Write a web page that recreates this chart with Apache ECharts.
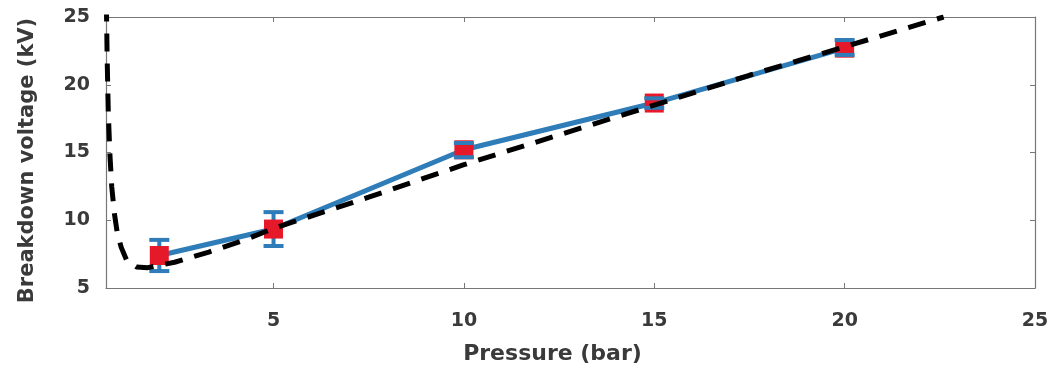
<!DOCTYPE html>
<html>
<head>
<meta charset="utf-8">
<script src="https://cdn.jsdelivr.net/npm/echarts@6/dist/echarts.min.js"></script>
<style>
    html, body { margin: 0; padding: 0; background: #fff; }
    #chart { width: 1060px; height: 379px; }
</style>
</head>
<body>
<div id="chart"></div>
<script>
    // measured breakdown voltage
    var pressure = [2, 5, 10, 15, 20];
    var voltage = [7.4, 9.35, 15.2, 18.65, 22.7];
    var errLow = [6.25, 8.1, 14.65, 18.3, 22.2];
    var errHigh = [8.55, 10.6, 15.7, 19.0, 23.3];

    // Paschen curve (dashed)
    var paschenX = [0.61, 0.63, 0.66, 0.7, 0.75, 0.82, 0.9, 1.0, 1.15, 1.4, 1.7, 2.4, 3.3, 4.2, 5, 7.5, 10, 12.5, 15, 17.5, 20, 22.6];
    var paschenY = [26, 22, 18, 15, 12.5, 10.5, 9.0, 8.0, 7.0, 6.55, 6.5, 6.9, 7.65, 8.5, 9.4, 11.7, 14.1, 16.3, 18.5, 20.7, 22.8, 25];

    var xTicks = [5, 10, 15, 20, 25];

    var blue = '#2e7cb8';
    var red = '#e5192a';
    var txt = '#3a3a3a';
    var font = 'DejaVu Sans';

    var measured = pressure.map(function (p, i) { return [p, voltage[i]]; });
    var errData = pressure.map(function (p, i) { return [p, errLow[i], errHigh[i]]; });
    var paschen = paschenX.map(function (p, i) { return [p, paschenY[i]]; });

    function stem(params, api) {
        var lo = api.coord([api.value(0), api.value(1)]);
        var hi = api.coord([api.value(0), api.value(2)]);
        return {
            type: 'line',
            shape: { x1: lo[0], y1: lo[1], x2: hi[0], y2: hi[1] },
            style: { stroke: blue, lineWidth: 4 }
        };
    }

    function caps(params, api) {
        var lo = api.coord([api.value(0), api.value(1)]);
        var hi = api.coord([api.value(0), api.value(2)]);
        var w = 10;
        return {
            type: 'group',
            children: [
                { type: 'line', shape: { x1: lo[0] - w, y1: lo[1], x2: lo[0] + w, y2: lo[1] }, style: { stroke: blue, lineWidth: 4 } },
                { type: 'line', shape: { x1: hi[0] - w, y1: hi[1], x2: hi[0] + w, y2: hi[1] }, style: { stroke: blue, lineWidth: 4 } }
            ]
        };
    }

    var axisLine = { show: true, lineStyle: { color: '#777', width: 1.2 } };

    var option = {
        animation: false,
        backgroundColor: '#fff',
        grid: { left: 106, right: 25, top: 17, bottom: 91, show: false },
        xAxis: [{
            type: 'value',
            min: 0.6,
            max: 25,
            name: 'Pressure (bar)',
            nameLocation: 'middle',
            nameGap: 55,
            nameTextStyle: { color: txt, fontFamily: font, fontWeight: 'bold', fontSize: 22, padding: [0, 36, 0, 0] },
            axisLine: axisLine,
            axisTick: { inside: true, length: 5, customValues: xTicks, lineStyle: { color: '#777' } },
            axisLabel: { customValues: xTicks, color: txt, fontFamily: font, fontWeight: 'bold', fontSize: 19, margin: 24 },
            splitLine: { show: false }
        }, {
            type: 'value',
            position: 'top',
            min: 0.6,
            max: 25,
            axisLine: axisLine,
            axisTick: { inside: true, length: 5, customValues: xTicks, lineStyle: { color: '#777' } },
            axisLabel: { show: false },
            splitLine: { show: false }
        }],
        yAxis: [{
            type: 'value',
            min: 5,
            max: 25,
            interval: 5,
            name: 'Breakdown voltage (kV)',
            nameLocation: 'middle',
            nameGap: 68,
            nameTextStyle: { color: txt, fontFamily: font, fontWeight: 'bold', fontSize: 21, padding: [0, 16, 0, 0] },
            axisLine: axisLine,
            axisTick: { inside: true, length: 5, lineStyle: { color: '#777' } },
            axisLabel: { color: txt, fontFamily: font, fontWeight: 'bold', fontSize: 19, margin: 16 },
            splitLine: { show: false }
        }, {
            type: 'value',
            position: 'right',
            min: 5,
            max: 25,
            interval: 5,
            axisLine: axisLine,
            axisTick: { inside: true, length: 5, lineStyle: { color: '#777' } },
            axisLabel: { show: false },
            splitLine: { show: false }
        }],
        series: [{
            name: 'measured',
            type: 'line',
            data: measured,
            symbol: 'none',
            lineStyle: { color: blue, width: 5 },
            z: 2
        }, {
            name: 'stem',
            type: 'custom',
            data: errData,
            renderItem: stem,
            encode: { x: 0, y: [1, 2] },
            z: 3
        }, {
            name: 'points',
            type: 'scatter',
            data: measured,
            symbol: 'rect',
            symbolSize: 19,
            itemStyle: { color: red, opacity: 1 },
            z: 4
        }, {
            name: 'caps',
            type: 'custom',
            data: errData,
            renderItem: caps,
            encode: { x: 0, y: [1, 2] },
            z: 5
        }, {
            name: 'paschen',
            type: 'line',
            data: paschen,
            symbol: 'none',
            clip: true,
            lineStyle: { color: '#000', width: 5, type: [18, 12], cap: 'butt' },
            z: 6
        }]
    };

    var chart = echarts.init(document.getElementById('chart'));
    chart.setOption(option);
</script>
</body>
</html>
